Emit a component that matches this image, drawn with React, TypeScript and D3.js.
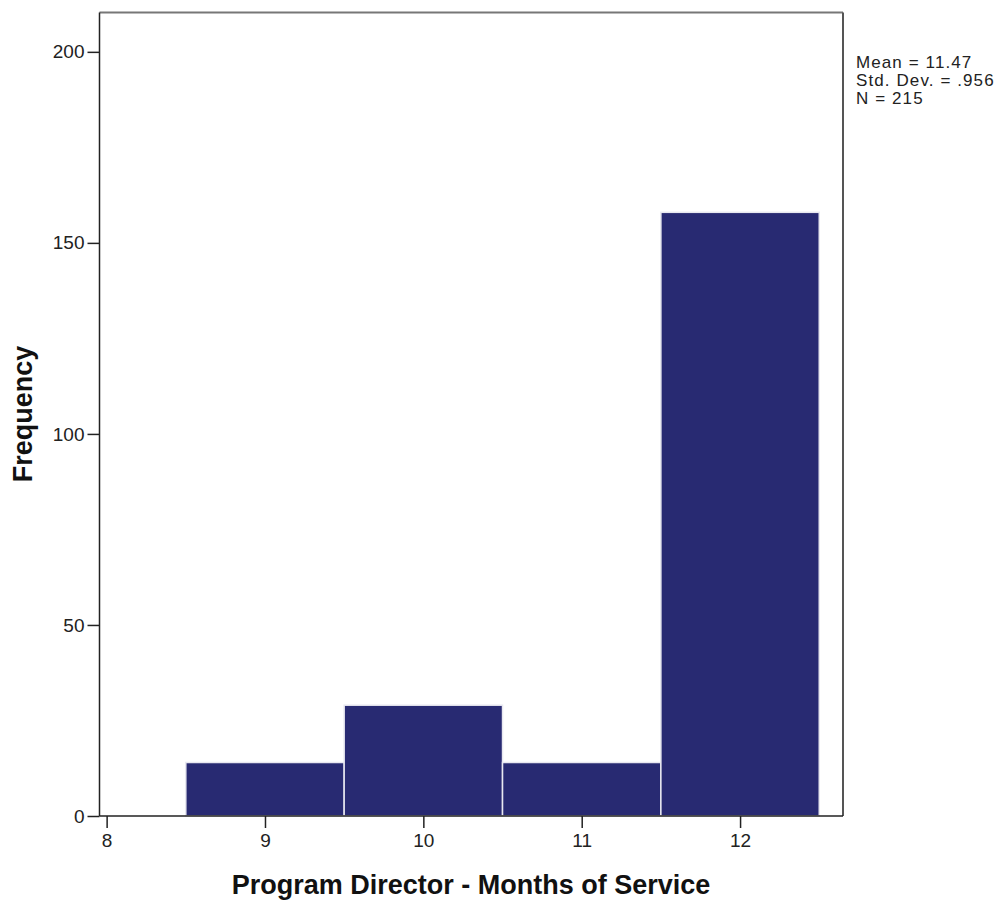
import React, { useEffect, useRef } from "react";
import * as d3 from "d3";

const binCenters = [9, 10, 11, 12];
const frequencies = [14, 29, 14, 158];
const xTicks = [8, 9, 10, 11, 12];
const yTicks = [0, 50, 100, 150, 200];
const statsLines = ["Mean = 11.47", "Std. Dev. = .956", "N = 215"];
const xTitle = "Program Director - Months of Service";
const yTitle = "Frequency";

export default function App() {
  const ref = useRef<SVGSVGElement>(null);
  useEffect(() => {
    const svg = d3.select(ref.current);
    svg.selectAll("*").remove();
    const L = 99.5, R = 843, T = 12.5, B = 816;
    const x = d3.scaleLinear().domain([7.955, 12.65]).range([L, R]);
    const y = d3.scaleLinear().domain([0, 210.3]).range([B, T]);
    const font = "Arial, 'Liberation Sans', sans-serif";

    // bars
    svg.append("g").selectAll("rect").data(binCenters).join("rect")
      .attr("x", (d) => x(d - 0.5))
      .attr("width", (d) => x(d + 0.5) - x(d - 0.5))
      .attr("y", (d, i) => y(frequencies[i]))
      .attr("height", (d, i) => B - y(frequencies[i]))
      .attr("fill", "#282a72")
      .attr("stroke", "#e8e8f0")
      .attr("stroke-width", 1.5);

    // frame
    svg.append("line").attr("x1", L).attr("x2", R).attr("y1", T).attr("y2", T)
      .attr("stroke", "#777").attr("stroke-width", 2);
    svg.append("line").attr("x1", R).attr("x2", R).attr("y1", T).attr("y2", B)
      .attr("stroke", "#555").attr("stroke-width", 2);

    // y axis
    const ya = svg.append("g").attr("transform", `translate(${L},0)`)
      .call(d3.axisLeft(y).tickValues(yTicks).tickSize(12).tickPadding(3).tickFormat(d3.format("d")));
    ya.select(".domain").attr("stroke", "#222").attr("stroke-width", 1.5).attr("d", `M0,${T}V${B}`);
    ya.selectAll(".tick line").attr("stroke", "#222").attr("stroke-width", 1.5);
    ya.selectAll("text").attr("font-family", font).attr("font-size", 19).attr("fill", "#222");

    // x axis
    const xa = svg.append("g").attr("transform", `translate(0,${B})`)
      .call(d3.axisBottom(x).tickValues(xTicks).tickSize(12).tickPadding(6).tickFormat(d3.format("d")));
    xa.select(".domain").attr("stroke", "#222").attr("stroke-width", 1.5).attr("d", `M${L},0H${R}`);
    xa.selectAll(".tick line").attr("stroke", "#222").attr("stroke-width", 1.5);
    xa.selectAll("text").attr("font-family", font).attr("font-size", 19).attr("fill", "#222");

    // titles
    svg.append("text").attr("x", 471).attr("y", 894).attr("text-anchor", "middle")
      .attr("font-family", font).attr("font-weight", "bold").attr("font-size", 27).attr("fill", "#111")
      .text(xTitle);
    svg.append("text").attr("transform", "translate(32,414) rotate(-90)").attr("text-anchor", "middle")
      .attr("font-family", font).attr("font-weight", "bold").attr("font-size", 27).attr("fill", "#111")
      .text(yTitle);

    // stats
    svg.append("g").selectAll("text").data(statsLines).join("text")
      .attr("x", 856).attr("y", (d, i) => 68 + i * 18)
      .attr("font-family", font).attr("font-size", 17).attr("letter-spacing", 1.1).attr("fill", "#222")
      .text((d) => d);
  }, []);
  return (
    <svg ref={ref} width={1003} height={901}
      style={{ position: "absolute", left: 0, top: 0, background: "#fff" }} />
  );
}
